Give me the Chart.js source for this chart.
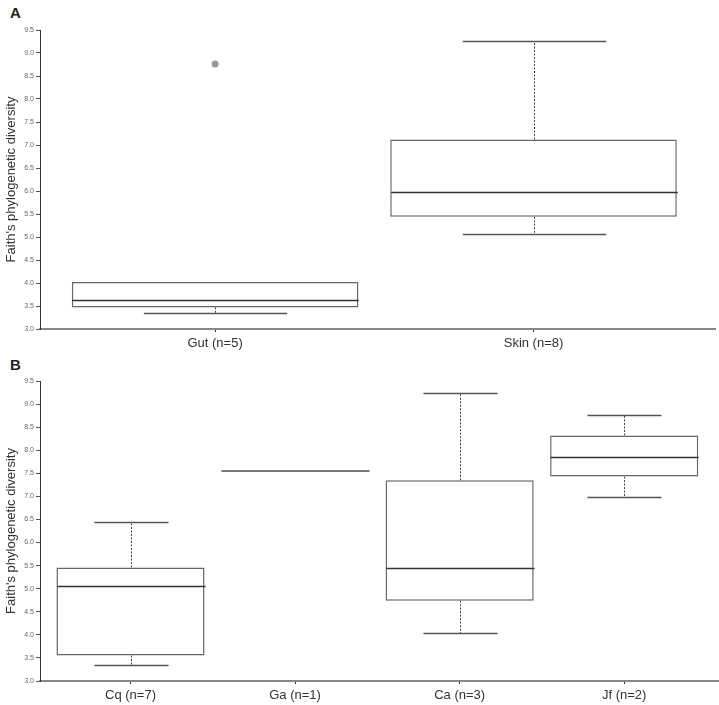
<!DOCTYPE html>
<html>
<head>
<meta charset="utf-8">
<script src="https://cdn.jsdelivr.net/npm/chart.js@4.4.1/dist/chart.umd.min.js"></script>
<style>
  body { margin: 0; background: #fff; }
  #wrap { position: relative; width: 719px; height: 705px; }
  .panel { position: absolute; left: 0; width: 719px; }
  .letter { position: absolute; left: 10px; font: bold 15px "Liberation Sans", Arial, sans-serif; color: #222; }
</style>
</head>
<body>
<div id="wrap">
  <div class="letter" style="top:4px">A</div>
  <div class="panel" style="top:0;height:352px"><canvas id="chartA" width="719" height="352"></canvas></div>
  <div class="letter" style="top:356px">B</div>
  <div class="panel" style="top:352px;height:353px"><canvas id="chartB" width="719" height="353"></canvas></div>
</div>
<script>
// Panel A: gut vs skin
const catsA = ["Gut (n=5)", "Skin (n=8)"];
const lowA = [3.35, 5.06];
const q1A = [3.47, 5.44];
const medA = [3.62, 5.97];
const q3A = [4.02, 7.12];
const highA = [4.02, 9.26];
const outliersA = [{ x: 0, y: 8.76 }];

// Panel B: by species
const catsB = ["Cq (n=7)", "Ga (n=1)", "Ca (n=3)", "Jf (n=2)"];
const lowB = [3.35, null, 4.03, 6.98];
const q1B = [3.55, null, 4.74, 7.43];
const medB = [5.05, 7.55, 5.44, 7.86];
const q3B = [5.46, null, 7.35, 8.32];
const highB = [6.45, null, 9.25, 8.77];

const yTicks = [3.0, 3.5, 4.0, 4.5, 5.0, 5.5, 6.0, 6.5, 7.0, 7.5, 8.0, 8.5, 9.0, 9.5];
const yTitle = "Faith's phylogenetic diversity";

// whiskers, caps and medians drawn on top of the floating-bar boxes
const boxWhiskers = {
    id: "boxWhiskers",
    afterDatasetsDraw(chart, args, opts) {
        const { ctx, scales: { x, y } } = chart;
        const step = x.getPixelForValue(1) - x.getPixelForValue(0);
        const halfBox = step * 0.45;
        const halfCap = step * 0.225;
        ctx.save();
        opts.med.forEach((m, i) => {
            const cx = Math.round(x.getPixelForValue(i)) + 0.5;
            if (opts.q1[i] == null) {
                // single sample: just a line
                ctx.strokeStyle = "#777";
                ctx.lineWidth = 2;
                ctx.beginPath();
                ctx.moveTo(cx - halfBox, y.getPixelForValue(m));
                ctx.lineTo(cx + halfBox, y.getPixelForValue(m));
                ctx.stroke();
                return;
            }
            const segs = [[opts.q3[i], opts.high[i]], [opts.q1[i], opts.low[i]]];
            segs.forEach(([from, to]) => {
                if (to == null || from === to) return;
                const y0 = y.getPixelForValue(from);
                const y1 = Math.round(y.getPixelForValue(to)) + 0.5;
                ctx.strokeStyle = "#444";
                ctx.lineWidth = 1;
                ctx.setLineDash([2, 1.5]);
                ctx.beginPath();
                ctx.moveTo(cx, y0);
                ctx.lineTo(cx, y1);
                ctx.stroke();
                ctx.setLineDash([]);
                ctx.lineWidth = 1.5;
                ctx.strokeStyle = "#555";
                ctx.beginPath();
                ctx.moveTo(cx - halfCap, y1);
                ctx.lineTo(cx + halfCap, y1);
                ctx.stroke();
            });
            ctx.strokeStyle = "#333";
            ctx.lineWidth = 1.5;
            const my = Math.round(y.getPixelForValue(m)) + 0.5;
            ctx.beginPath();
            ctx.moveTo(cx - halfBox, my);
            ctx.lineTo(cx + halfBox, my);
            ctx.stroke();
        });
        ctx.restore();
    }
};

function makeBoxChart(canvasId, cats, low, q1, med, q3, high, outliers, padTop, xHeight) {
    const boxes = cats.map((c, i) => ({ x: i, y: q1[i] == null ? null : [q1[i], q3[i]] }));
    const datasets = [{
        type: "bar",
        data: boxes,
        backgroundColor: "#fff",
        borderColor: "#666",
        borderWidth: 1.5,
        borderSkipped: false,
        barPercentage: 0.9,
        categoryPercentage: 1.0
    }];
    if (outliers.length) {
        datasets.push({
            type: "scatter",
            data: outliers,
            pointRadius: 3.5,
            backgroundColor: "#9a9a9a",
            borderWidth: 0
        });
    }
    return new Chart(document.getElementById(canvasId), {
        type: "bar",
        data: { datasets },
        plugins: [boxWhiskers],
        options: {
            responsive: false,
            animation: false,
            devicePixelRatio: 1,
            layout: { padding: { top: padTop, right: 1, left: 0, bottom: 0 } },
            plugins: {
                legend: { display: false },
                tooltip: { enabled: false },
                boxWhiskers: { low, q1, med, q3, high }
            },
            scales: {
                x: {
                    type: "linear",
                    offset: false,
                    min: -0.55,
                    max: cats.length - 1 + 0.57,
                    afterBuildTicks: (s) => { s.ticks = cats.map((c, i) => ({ value: i })); },
                    afterFit: (s) => { s.height = xHeight; },
                    grid: { display: true, offset: false, drawOnChartArea: false, drawTicks: true, tickLength: 3, color: "#333" },
                    border: { display: true, color: "#888", width: 2 },
                    ticks: {
                        autoSkip: false,
                        maxRotation: 0,
                        padding: 4,
                        color: "#333",
                        font: { family: "'Liberation Sans Narrow', 'Liberation Sans', Arial, sans-serif", size: 13 },
                        callback: (v) => cats[v]
                    }
                },
                y: {
                    min: 3,
                    max: 9.5,
                    afterBuildTicks: (s) => { s.ticks = yTicks.map((v) => ({ value: v })); },
                    afterFit: (s) => { s.width = 40; },
                    grid: { display: true, drawOnChartArea: false, drawTicks: true, tickLength: 4, color: "#555" },
                    border: { display: true, color: "#333", width: 1 },
                    title: {
                        display: true,
                        text: yTitle,
                        color: "#333",
                        padding: { top: 4, bottom: 2 },
                        font: { family: "'Liberation Sans', Arial, sans-serif", size: 13 }
                    },
                    ticks: {
                        padding: 2,
                        color: "#666",
                        font: { family: "'Liberation Sans', Arial, sans-serif", size: 7 },
                        callback: (v) => v.toFixed(1)
                    }
                }
            }
        }
    });
}

makeBoxChart("chartA", catsA, lowA, q1A, medA, q3A, highA, outliersA, 30, 23);
makeBoxChart("chartB", catsB, lowB, q1B, medB, q3B, highB, [], 29, 24);
</script>
</body>
</html>
